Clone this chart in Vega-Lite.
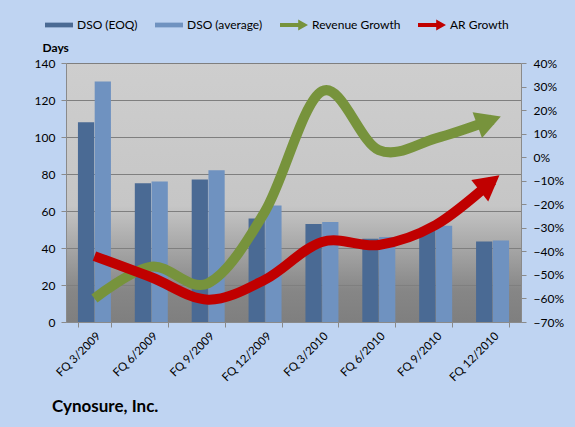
{
  "$schema": "https://vega.github.io/schema/vega-lite/v6.json",
  "width": 455,
  "height": 259,
  "autosize": "none",
  "padding": {"left": 66, "top": 63, "right": 54, "bottom": 105},
  "background": "#bfd4f2",
  "config": {
    "font": "Lato",
    "view": {
      "stroke": null,
      "fill": {"gradient": "linear", "x1": 0, "y1": 0, "x2": 0, "y2": 1,
        "stops": [
          {"offset": 0, "color": "#cecece"},
          {"offset": 0.55, "color": "#c6c6c6"},
          {"offset": 0.88, "color": "#868686"},
          {"offset": 1, "color": "#7f7f7f"}
        ]}
    },
    "axis": {"labelFont": "Lato", "labelFontSize": 12, "labelColor": "#000000", "domainColor": "#8a8a8a", "tickColor": "#8a8a8a", "gridColor": "#7f7f7f", "tickSize": 5},
    "axisRight": {"labelOverlap": false, "labelFlush": false}
  },
  "title": {"text": "Cynosure, Inc.", "orient": "bottom", "anchor": "start", "frame": "group", "dx": -14, "offset": 16, "fontSize": 17, "fontWeight": "bold", "font": "Lato", "color": "#000000"},
  "data": {"values": [
    {"quarter": "FQ 3/2009", "DSO (EOQ)": 108, "DSO (average)": 130, "Revenue Growth": -0.60, "AR Growth": -0.42},
    {"quarter": "FQ 6/2009", "DSO (EOQ)": 75, "DSO (average)": 76, "Revenue Growth": -0.465, "AR Growth": -0.51},
    {"quarter": "FQ 9/2009", "DSO (EOQ)": 77, "DSO (average)": 82, "Revenue Growth": -0.535, "AR Growth": -0.605},
    {"quarter": "FQ 12/2009", "DSO (EOQ)": 56, "DSO (average)": 63, "Revenue Growth": -0.23, "AR Growth": -0.52},
    {"quarter": "FQ 3/2010", "DSO (EOQ)": 53, "DSO (average)": 54, "Revenue Growth": 0.28, "AR Growth": -0.36},
    {"quarter": "FQ 6/2010", "DSO (EOQ)": 45, "DSO (average)": 46, "Revenue Growth": 0.03, "AR Growth": -0.373},
    {"quarter": "FQ 9/2010", "DSO (EOQ)": 51, "DSO (average)": 52, "Revenue Growth": 0.08, "AR Growth": -0.288},
    {"quarter": "FQ 12/2010", "DSO (EOQ)": 43.5, "DSO (average)": 44, "Revenue Growth": 0.16, "AR Growth": -0.10}
  ]},
  "encoding": {
    "x": {"field": "quarter", "type": "nominal", "sort": null,
      "scale": {"paddingInner": 0.42, "paddingOuter": 0.21},
      "axis": {"title": null, "labelAngle": -45, "tickBand": "extent", "labelPadding": 3, "labelFontSize": 11.5, "grid": false}}
  },
  "layer": [
    {
      "transform": [{"fold": ["DSO (EOQ)", "DSO (average)"], "as": ["series", "value"]}],
      "mark": {"type": "bar", "strokeWidth": 0},
      "encoding": {
        "xOffset": {"field": "series", "type": "nominal", "sort": ["DSO (EOQ)", "DSO (average)"], "scale": {"paddingInner": 0.03}},
        "y": {"field": "value", "type": "quantitative", "scale": {"domain": [0, 140]},
          "axis": {"orient": "left", "values": [0, 20, 40, 60, 80, 100, 120, 140], "grid": true, "title": "Days", "titleAngle": 0, "titleAlign": "left", "titleBaseline": "alphabetic", "titleX": -24, "titleY": -12, "titleFontSize": 12, "titleFontWeight": "bold", "titleFont": "Lato", "labelPadding": 6}},
        "color": {"field": "series", "type": "nominal",
          "scale": {"domain": ["DSO (EOQ)", "DSO (average)", "Revenue Growth", "AR Growth"], "range": ["#4a6a94", "#6f92c0", "#77933c", "#c00000"]},
          "legend": {"orient": "none", "direction": "horizontal", "legendX": -21, "legendY": -52, "title": null, "labelFont": "Lato", "labelFontSize": 12, "labelColor": "#000000", "symbolSize": 784, "columnPadding": 17, "labelOffset": 4, "symbolStrokeWidth": 0,
            "encode": {"symbols": {"update": {
              "shape": {"signal": "indexof(['Revenue Growth','AR Growth'], datum.value) >= 0 ? 'M-1,-0.14L0.3,-0.14L0.3,-0.4L1,0L0.3,0.4L0.3,0.14L-1,0.14Z' : 'M-1,-0.17L1,-0.17L1,0.17L-1,0.17Z'"},
              "fill": {"scale": "color", "field": "value"},
              "opacity": {"value": 1},
              "strokeWidth": {"value": 0}
            }}}}
        }
      }
    },
    {
      "encoding": {
        "y": {"field": "value", "type": "quantitative", "scale": {"domain": [-0.7, 0.4]},
          "axis": {"orient": "right", "format": ".0%", "values": [-0.7, -0.6, -0.5, -0.4, -0.3, -0.2, -0.1, 0, 0.1, 0.2, 0.3, 0.4], "labelOverlap": false, "labelFlush": false, "grid": false, "title": null, "labelPadding": 7}}
      },
      "layer": [
        {
          "transform": [{"fold": ["Revenue Growth", "AR Growth"], "as": ["series", "value"]}],
          "mark": {"type": "line", "interpolate": "cardinal", "strokeWidth": 10, "strokeCap": "butt"},
          "encoding": {
            "color": {"field": "series", "type": "nominal"}
          }
        },
        {
          "transform": [{"filter": {"field": "quarter", "equal": "FQ 12/2010"}}, {"fold": ["Revenue Growth"], "as": ["series", "value"]}],
          "mark": {"type": "point", "shape": "M0.7,0L-1.3,-1.1L-1.3,1.1Z", "size": 625, "filled": true, "opacity": 1, "strokeWidth": 0, "angle": 340, "color": "#77933c"}
        },
        {
          "transform": [{"filter": {"field": "quarter", "equal": "FQ 12/2010"}}, {"fold": ["AR Growth"], "as": ["series", "value"]}],
          "mark": {"type": "point", "shape": "M0.7,0L-1.3,-1.1L-1.3,1.1Z", "size": 625, "filled": true, "opacity": 1, "strokeWidth": 0, "angle": 322, "color": "#c00000"}
        }
      ]
    }
  ],
  "resolve": {"scale": {"y": "independent"}}
}
